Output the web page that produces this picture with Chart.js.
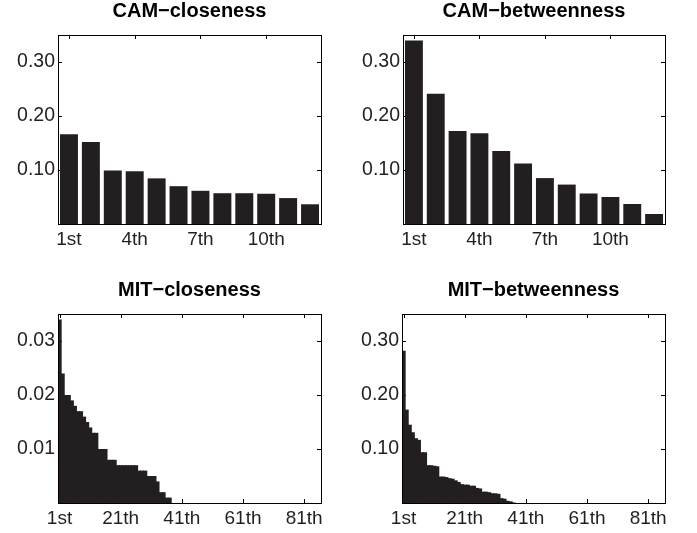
<!DOCTYPE html>
<html><head><meta charset="utf-8">
<script src="https://cdn.jsdelivr.net/npm/chart.js@4"></script>
<style>
html,body{margin:0;padding:0;background:#fff;width:697px;height:533px;overflow:hidden}
canvas{position:absolute}
</style></head><body>
<canvas id="c1" width="348" height="254" style="left:0;top:0"></canvas>
<canvas id="c2" width="348" height="254" style="left:344px;top:0"></canvas>
<canvas id="c3" width="348" height="254" style="left:0;top:279px"></canvas>
<canvas id="c4" width="348" height="254" style="left:344px;top:279px"></canvas>
<script>
// ---- data ----
const camCategories = ['1st','2nd','3rd','4th','5th','6th','7th','8th','9th','10th','11th','12th'];
const mitCategories = Array.from({length: 86}, (_, i) => i === 0 ? '1st' : (i + 1) + 'th');

const camCloseness   = [0.166, 0.152, 0.099, 0.0975, 0.0845, 0.070, 0.0615, 0.057, 0.057, 0.056, 0.048, 0.0365];
const camBetweenness = [0.340, 0.241, 0.172, 0.168, 0.135, 0.112, 0.085, 0.073, 0.0565, 0.050, 0.037, 0.0185];

const mitCloseness = [
  0.034, 0.024, 0.020, 0.020, 0.019, 0.018, 0.017, 0.017, 0.016, 0.015,
  0.014, 0.013, 0.013, 0.010, 0.010, 0.010, 0.008, 0.008, 0.008, 0.007,
  0.007, 0.007, 0.007, 0.007, 0.007, 0.007, 0.006, 0.006, 0.006, 0.005,
  0.005, 0.005, 0.004, 0.002, 0.002, 0.001, 0.001, 0, 0, 0,
  0, 0, 0, 0, 0, 0, 0, 0, 0, 0,
  0, 0, 0, 0, 0, 0, 0, 0, 0, 0,
  0, 0, 0, 0, 0, 0, 0, 0, 0, 0,
  0, 0, 0, 0, 0, 0, 0, 0, 0, 0,
  0, 0, 0, 0, 0, 0
];
const mitBetweenness = [
  0.282, 0.173, 0.145, 0.131, 0.120, 0.117, 0.094, 0.094, 0.070, 0.070,
  0.069, 0.068, 0.049, 0.049, 0.048, 0.046, 0.045, 0.042, 0.039, 0.035,
  0.034, 0.034, 0.032, 0.032, 0.028, 0.027, 0.021, 0.021, 0.020, 0.018,
  0.018, 0.017, 0.009, 0.008, 0.004, 0.003, 0.001, 0, 0, 0,
  0, 0, 0, 0, 0, 0, 0, 0, 0, 0,
  0, 0, 0, 0, 0, 0, 0, 0, 0, 0,
  0, 0, 0, 0, 0, 0, 0, 0, 0, 0,
  0, 0, 0, 0, 0, 0, 0, 0, 0, 0,
  0, 0, 0, 0, 0, 0
];

const camTickLabels = ['1st', '4th', '7th', '10th'];
const mitTickLabels = ['1st', '21th', '41th', '61th', '81th'];
const betweennessYTicks = [0.10, 0.20, 0.30];
const camClosenessYTicks = [0.10, 0.20, 0.30];
const mitClosenessYTicks = [0.01, 0.02, 0.03];

// ---- style ----
const FONT = '"Liberation Sans", Arial, Helvetica, sans-serif';
const INK = '#231f20';

const frame = {
  id: 'frame',
  beforeDatasetsDraw(chart) {
    const {ctx, chartArea: a, scales: {x, y}} = chart;
    const L = 4;
    ctx.save();
    ctx.strokeStyle = '#000';
    ctx.lineWidth = 1;
    ctx.beginPath();
    x.ticks.forEach((t, i) => {
      const px = Math.round(x.getPixelForTick(i)) + 0.5;
      ctx.moveTo(px, a.bottom); ctx.lineTo(px, a.bottom - L);
      ctx.moveTo(px, a.top); ctx.lineTo(px, a.top + L);
    });
    y.ticks.forEach((t, i) => {
      const py = Math.round(y.getPixelForTick(i)) + 0.5;
      ctx.moveTo(a.left, py); ctx.lineTo(a.left + L, py);
      ctx.moveTo(a.right, py); ctx.lineTo(a.right - L, py);
    });
    ctx.stroke();
    ctx.restore();
  },
  afterDatasetsDraw(chart) {
    const {ctx, chartArea: a} = chart;
    const l = Math.floor(a.left) + 0.5, r = Math.floor(a.right) + 0.5;
    const t = Math.floor(a.top) + 0.5, b = Math.floor(a.bottom) + 0.5;
    ctx.save();
    ctx.strokeStyle = '#000';
    ctx.lineWidth = 1;
    ctx.strokeRect(l, t, r - l, b - t);
    ctx.restore();
  }
};

function makeChart(id, title, categories, values, tickLabels, yTicks, yMax, barPct, yWidth) {
  return new Chart(document.getElementById(id), {
    type: 'bar',
    data: {
      labels: categories,
      datasets: [{
        data: values,
        backgroundColor: INK,
        borderWidth: 0,
        barPercentage: barPct,
        categoryPercentage: 1
      }]
    },
    options: {
      responsive: false,
      animation: false,
      events: [],
      layout: {padding: {left: 0, right: 27, top: 0, bottom: 0}},
      plugins: {
        legend: {display: false},
        tooltip: {enabled: false},
        title: {
          display: true, text: title, fullSize: false, color: '#000',
          font: {family: FONT, size: 20, weight: 'bold', lineHeight: 1.15},
          padding: {top: 0, bottom: 12}
        }
      },
      scales: {
        x: {
          type: 'category', offset: true,
          grid: {display: false, drawTicks: false},
          border: {display: false},
          ticks: {autoSkip: false, maxRotation: 0, minRotation: 0, padding: 4, color: INK,
                  font: {family: FONT, size: 19}},
          afterBuildTicks(s) { s.ticks = s.ticks.filter(t => tickLabels.includes(categories[t.value])); },
          afterFit(s) { s.height = 30; }
        },
        y: {
          type: 'linear', min: 0, max: yMax,
          grid: {display: false, drawTicks: false},
          border: {display: false},
          ticks: {padding: 3, color: INK, font: {family: FONT, size: 19.5},
                  callback: v => Number(v).toFixed(2)},
          afterBuildTicks(s) { s.ticks = yTicks.map(v => ({value: v})); },
          afterFit(s) { s.width = yWidth; }
        }
      }
    },
    plugins: [frame]
  });
}

makeChart('c1', 'CAM\u2212closeness', camCategories, camCloseness, camTickLabels, camClosenessYTicks, 0.35, 0.82, 58);
makeChart('c2', 'CAM\u2212betweenness', camCategories, camBetweenness, camTickLabels, betweennessYTicks, 0.35, 0.82, 59);
makeChart('c3', 'MIT\u2212closeness', mitCategories, mitCloseness, mitTickLabels, mitClosenessYTicks, 0.035, 1.4, 58);
makeChart('c4', 'MIT\u2212betweenness', mitCategories, mitBetweenness, mitTickLabels, betweennessYTicks, 0.35, 1.4, 58);
</script>
</body></html>
